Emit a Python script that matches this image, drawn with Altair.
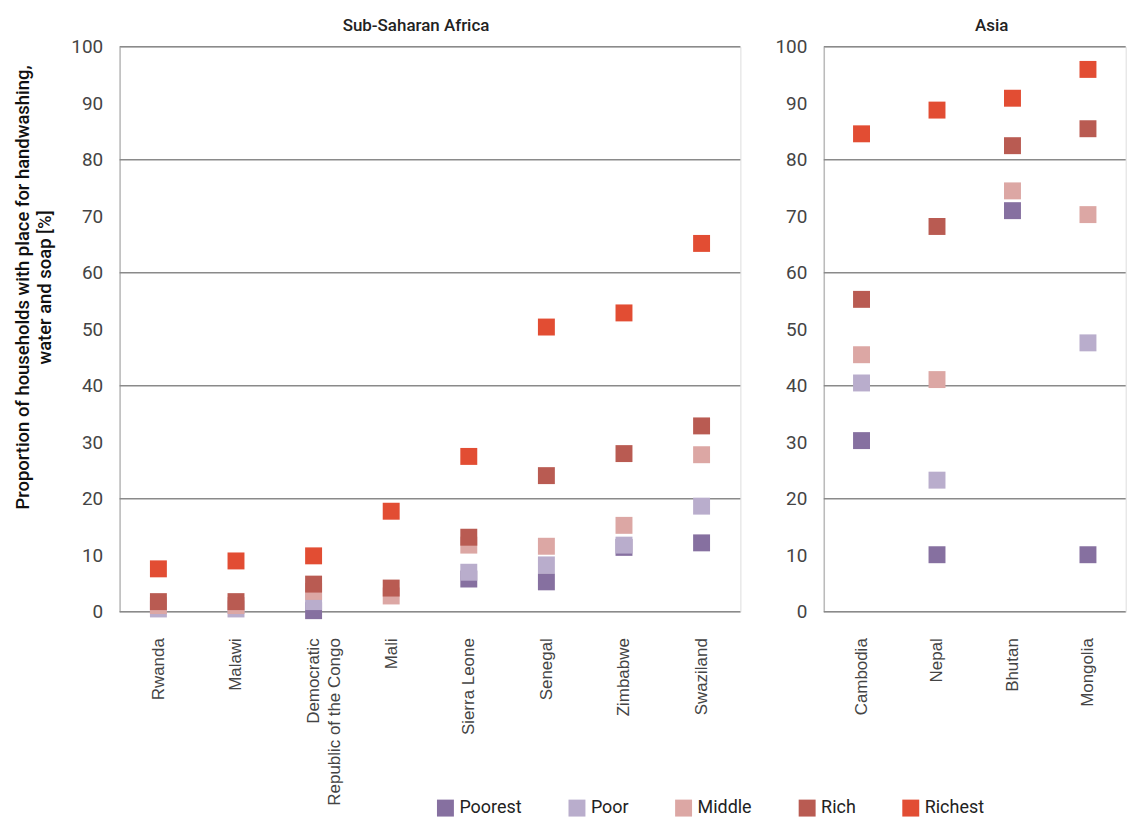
import altair as alt
import pandas as pd

groups = ["Poorest", "Poor", "Middle", "Rich", "Richest"]
colors = ["#8670A0", "#B9ADCC", "#DCA7A4", "#B95B52", "#E24D33"]

africa = ["Rwanda", "Malawi", "Democratic Republic of the Congo", "Mali",
          "Sierra Leone", "Senegal", "Zimbabwe", "Swaziland"]
asia = ["Cambodia", "Nepal", "Bhutan", "Mongolia"]

# values per wealth quintile (None = not visible in the source)
af_poorest = [None, None, 0.2, None, 5.8, 5.3, 11.4, 12.2]
af_poor = [0.5, 0.5, 1.8, None, 7.0, 8.3, 11.8, 18.7]
af_middle = [1.1, 1.1, 3.6, 2.8, 11.8, 11.6, 15.3, 27.8]
af_rich = [1.8, 1.8, 4.9, 4.2, 13.2, 24.1, 28.0, 32.9]
af_richest = [7.6, 9.0, 9.9, 17.8, 27.5, 50.4, 52.9, 65.2]

as_poorest = [30.3, 10.1, 71.0, 10.1]
as_poor = [40.5, 23.3, None, 47.6]
as_middle = [45.5, 41.1, 74.5, 70.3]
as_rich = [55.3, 68.2, 82.5, 85.5]
as_richest = [84.6, 88.8, 90.9, 96.0]

grid_values = [0, 20, 40, 60, 80, 100]
tick_values = [0, 10, 20, 30, 40, 50, 60, 70, 80, 90, 100]

FONT = "Roboto"
LFONT = "Liberation Sans"


def make_df(countries, cols):
    rows = []
    for gi, (g, vals) in enumerate(zip(groups, cols)):
        for c, v in zip(countries, vals):
            if v is not None:
                rows.append({"country": c, "group": g, "value": v, "ord": gi})
    return pd.DataFrame(rows)


df_af = make_df(africa, [af_poorest, af_poor, af_middle, af_rich, af_richest])
df_as = make_df(asia, [as_poorest, as_poor, as_middle, as_rich, as_richest])
df_grid = pd.DataFrame({"value": grid_values})

yscale = alt.Scale(domain=[0, 100], nice=False, zero=True)

legend = alt.Legend(
    orient="none", direction="horizontal", legendX=318, legendY=755,
    title=None, symbolType="square", symbolSize=289, symbolStrokeWidth=0,
    symbolOpacity=1, labelFontSize=18, labelFont=FONT, labelColor="#222222",
    labelOffset=5, columnPadding=46,
)


def panel(df, countries, title, width, dx, ytitle):
    yaxis_kwargs = dict(
        values=tick_values, grid=False, ticks=False, tickSize=0,
        domain=True, domainColor="#bbbbbb", domainWidth=1.5,
        labelFont=FONT, labelFontSize=19, labelColor="#444444",
        labelPadding=17,
    )
    if ytitle is not None:
        yaxis_kwargs.update(
            title=ytitle, titleFont=FONT, titleFontSize=18.5,
            titleFontWeight=500, titleColor="#111111", titlePadding=16.5,
            titleLineHeight=22, titleY=241,
        )
    else:
        yaxis_kwargs.update(title=None)

    grid = alt.Chart(df_grid).mark_rule(color="#8a8a8a", strokeWidth=1.5).encode(
        y=alt.Y("value:Q", scale=yscale, axis=alt.Axis(**yaxis_kwargs))
    )
    pts = alt.Chart(df).mark_square(size=289, opacity=1, filled=True).encode(
        x=alt.X(
            "country:N", sort=countries,
            scale=alt.Scale(type="point", padding=0.5),
            axis=alt.Axis(
                title=None, labelAngle=-90, domain=False, ticks=False,
                tickSize=0, labelPadding=26, labelFont=LFONT,
                labelFontSize=17, labelColor="#444444", labelLineHeight=21,
                labelLimit=260,
                labelExpr="datum.label == 'Democratic Republic of the Congo' ? ['Democratic', 'Republic of the Congo'] : datum.label",
            ),
        ),
        y=alt.Y("value:Q", scale=yscale),
        color=alt.Color("group:N", scale=alt.Scale(domain=groups, range=colors),
                        legend=legend),
        order=alt.Order("ord:Q"),
    )
    return alt.layer(grid, pts).properties(
        width=width, height=567,
        title=alt.TitleParams(
            title, font=FONT, fontSize=17, fontWeight=500, color="#222222",
            anchor="middle", frame="group", dx=dx, offset=3,
        ),
    )


left = panel(df_af, africa, "Sub-Saharan Africa", 623, -14,
             ["Proportion of households with place for handwashing,",
              "water and soap [%]"])
right = panel(df_as, asia, "Asia", 303, 17, None)

chart = alt.hconcat(left, right, spacing=31.7).properties(
    padding={"left": 4, "top": 6.5, "right": 0, "bottom": 0}
).configure_view(stroke=None).configure(background="white")

chart.save("out.html", embed_options={"renderer": "svg", "actions": False})
